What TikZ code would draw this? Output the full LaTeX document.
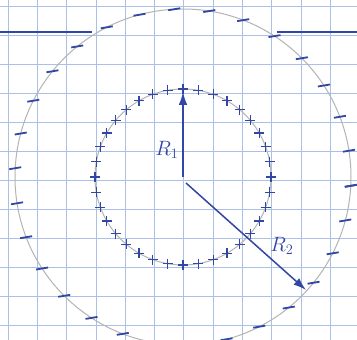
\documentclass[tikz,border=0pt]{standalone}
\usepackage{amsmath}
\usetikzlibrary{arrows.meta,calc,positioning}
\definecolor{ink}{RGB}{50,70,165}
\definecolor{gridblue}{RGB}{170,192,230}
\definecolor{pencil}{RGB}{180,180,180}

\begin{document}
\begin{tikzpicture}[
x=1pt, y=-1pt,
gridline/.style={draw=gridblue, line width=0.7pt},
shell/.style={draw=pencil, line width=1pt},
surface/.style={draw=ink, line width=2pt},
radius arrow/.style={-{Latex[length=4.5mm,width=3mm]}, line width=1.5pt, draw=ink},
plus/.style={draw=ink, line width=1.1pt},
minus/.style={draw=ink, line width=1.8pt},
rlabel/.style={text=ink, font=\huge}
]
\useasboundingbox (0,0) rectangle (357,340);
\clip (0,0) rectangle (357,340);
\fill[white] (0,0) rectangle (357,340);

% squared paper
\foreach \gx in {8,37.3,...,357}
  \draw[gridline] (\gx,0) -- (\gx,340);
\foreach \gy in {6,35,...,340}
  \draw[gridline] (0,\gy) -- (357,\gy);

\coordinate (centre) at (183,177);

% the two spheres
\draw[shell] (centre) circle[radius=88];
\draw[shell] (centre) circle[radius=168];

% surface line
\coordinate (left end) at (0,32);
\coordinate (left stop) at (92,32);
\coordinate (right stop) at (277,32);
\coordinate (right end) at (357,32);
\draw[surface] (left end) -- (left stop);
\draw[surface] (right stop) -- (right end);

% positive charge on the inner sphere
\foreach \a in {0,10,...,350} {
  \draw[plus] ($(centre)+(\a:88)+(-5,0)$) -- ++(10,0);
  \draw[plus] ($(centre)+(\a:88)+(0,-5)$) -- ++(0,10);
}

% negative charge on the outer sphere
\foreach \a in {3,15,...,363}
  \draw[minus] ($(centre)+(\a:168)+(-6,1)$) -- ++(12,-2);

% radii
\coordinate (tip one) at (183,92);
\coordinate (foot two) at (186,183);
\coordinate (tip two) at (306,290);
\draw[radius arrow] (centre) -- (tip one);
\draw[radius arrow] (foot two) -- (tip two);

\node[rlabel] (r one) at (167,150) {$R_1$};
\node[rlabel] (r two) at (282,246) {$R_2$};
\end{tikzpicture}
\end{document}
